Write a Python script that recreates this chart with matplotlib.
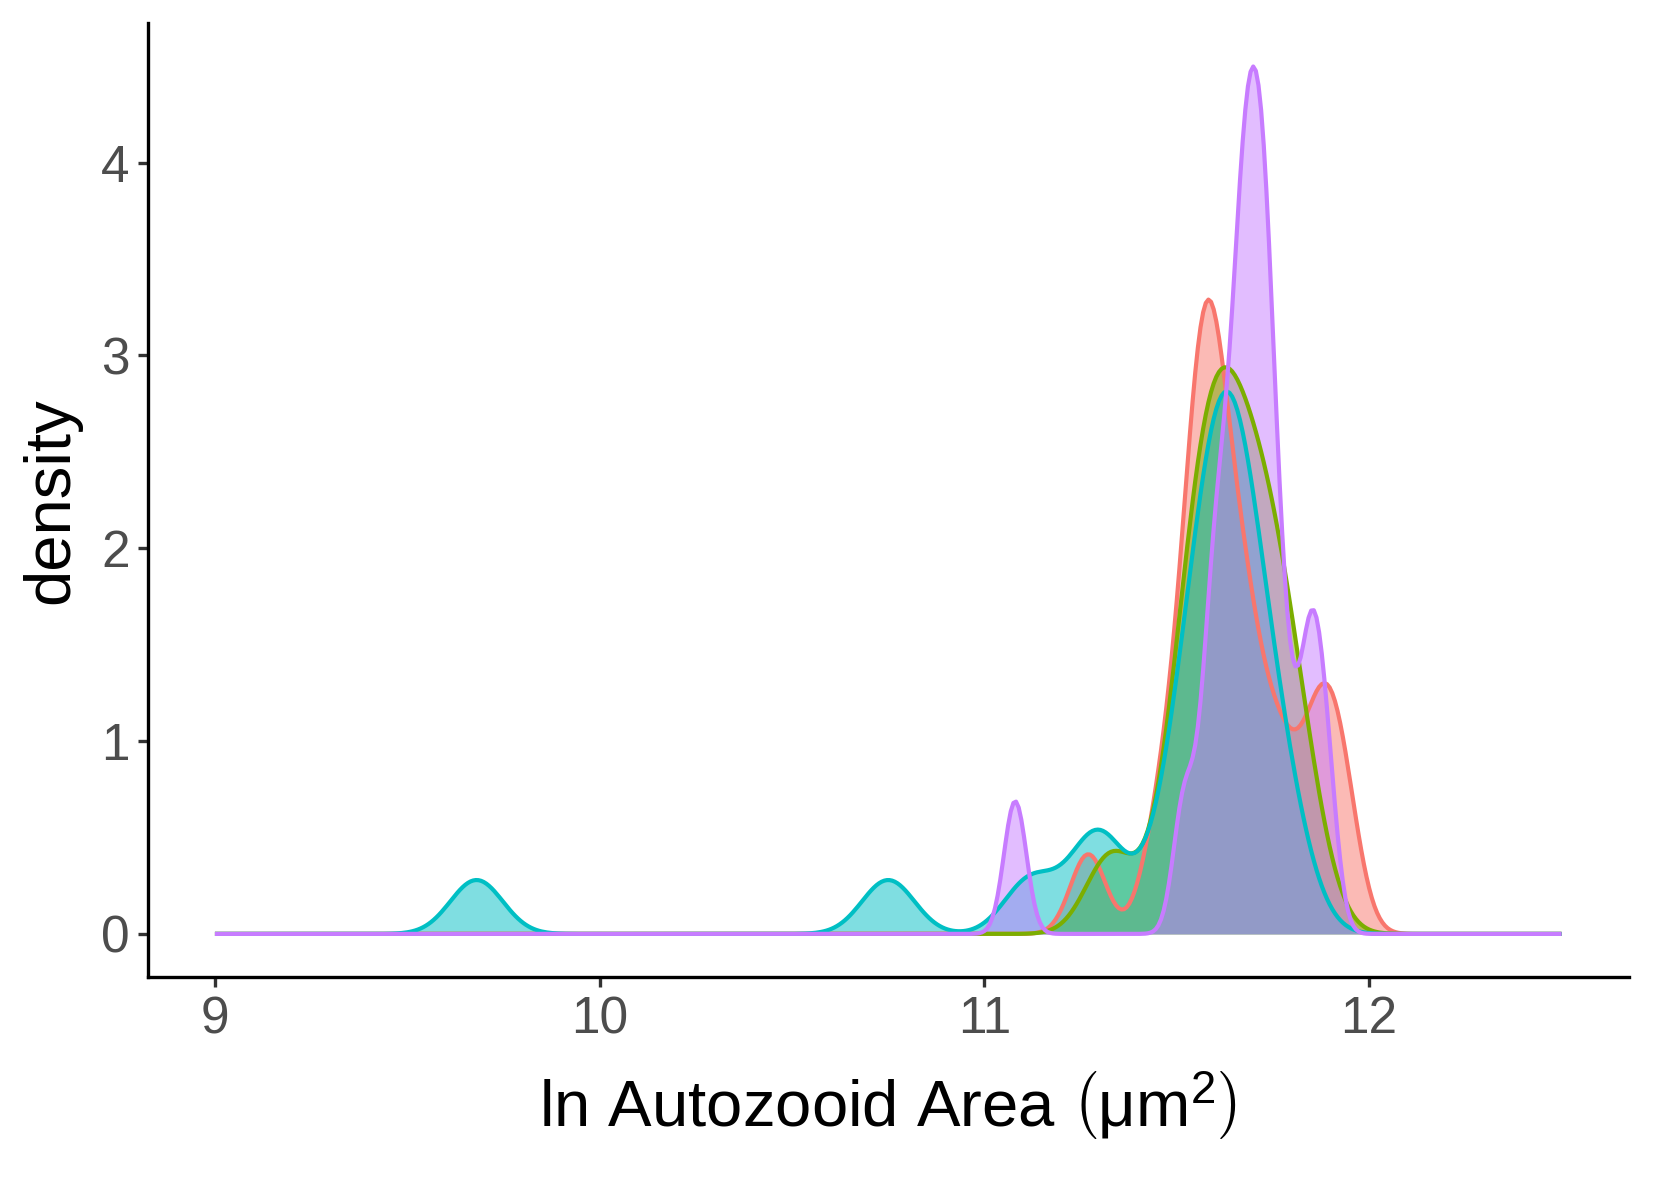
import numpy as np
import matplotlib
matplotlib.use("Agg")
import matplotlib.pyplot as plt

plt.rcParams['font.family'] = ['Liberation Sans', 'DejaVu Sans']
plt.rcParams['mathtext.fontset'] = 'custom'
plt.rcParams['mathtext.rm'] = 'Liberation Sans'
plt.rcParams['mathtext.it'] = 'Liberation Sans:italic'

group_names = ['A', 'B', 'C', 'D']
group_colors = ['#F8766D', '#7CAE00', '#00BFC4', '#C77CFF']

obs_a = [11.27, 11.45, 11.50, 11.53, 11.55, 11.56, 11.57, 11.58, 11.59, 11.60,
         11.61, 11.64, 11.66, 11.68, 11.70, 11.75, 11.78, 11.845, 11.875, 11.905, 11.94]
obs_b = [11.33, 11.50, 11.535, 11.56, 11.58, 11.60, 11.615, 11.635, 11.66, 11.685,
         11.71, 11.735, 11.76, 11.79, 11.84]
obs_c = [9.68, 10.75, 11.12, 11.27, 11.32, 11.48, 11.52, 11.55, 11.57, 11.59, 11.60,
         11.61, 11.63, 11.64, 11.65, 11.66, 11.68, 11.70, 11.72, 11.76, 11.80]
obs_d = [11.08, 11.52, 11.58, 11.60, 11.62, 11.64, 11.66, 11.67, 11.68, 11.685,
         11.70, 11.715, 11.72, 11.73, 11.74, 11.76, 11.79, 11.84, 11.855, 11.89]

# kernel bandwidths per group
bandwidths = [0.046, 0.065, 0.068, 0.029]

x_limits = (9.0, 12.5)


def gauss_kde(obs, bw, grid):
    obs = np.asarray(obs)
    z = (grid[:, None] - obs[None, :]) / bw
    return np.exp(-0.5 * z ** 2).sum(axis=1) / (len(obs) * bw * np.sqrt(2 * np.pi))


grid = np.linspace(x_limits[0], x_limits[1], 512)
groups = [obs_a, obs_b, obs_c, obs_d]

fig = plt.figure(figsize=(16.53, 11.81), dpi=100)
ax = fig.add_axes([0.0893, 0.1725, 0.8961, 0.8079])

ymax = 0
for obs, bw, col in zip(groups, bandwidths, group_colors):
    dens = gauss_kde(obs, bw, grid)
    ymax = max(ymax, dens.max())
    ax.fill_between(grid, 0, dens, color=col, alpha=0.5, lw=0)
    ax.plot(grid, dens, color=col, lw=3.0, solid_capstyle='butt')

xpad = 0.05 * (x_limits[1] - x_limits[0])
ax.set_xlim(x_limits[0] - xpad, x_limits[1] + xpad)
ax.set_ylim(-0.05 * ymax, 1.05 * ymax)

ax.set_xticks([9, 10, 11, 12])
ax.set_yticks([0, 1, 2, 3, 4])

for side in ['top', 'right']:
    ax.spines[side].set_visible(False)
for side in ['left', 'bottom']:
    ax.spines[side].set_color('black')
    ax.spines[side].set_linewidth(2.4)

ax.tick_params(axis='both', colors='#333333', width=2.4, length=7,
               labelsize=37, labelcolor='#4D4D4D', pad=6)

ax.set_xlabel(r'ln Autozooid Area $\left(\mathrm{\mu m}^{2}\right)$',
              fontsize=47, labelpad=18)
ax.set_ylabel('density', fontsize=47, labelpad=14)

fig.savefig('out.png', dpi=100)
